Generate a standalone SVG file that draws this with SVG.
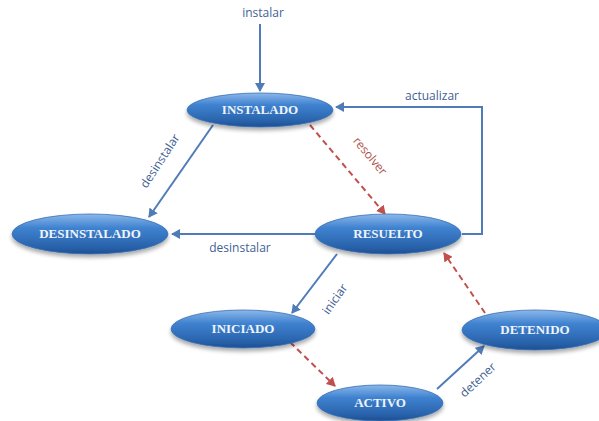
<svg xmlns="http://www.w3.org/2000/svg" width="599" height="421" viewBox="0 0 599 421">
<defs>
<linearGradient id="g" x1="0" y1="0" x2="0" y2="1">
<stop offset="0" stop-color="#8cb8ea"/>
<stop offset="0.35" stop-color="#3f82d0"/>
<stop offset="0.8" stop-color="#2a64ad"/>
<stop offset="1" stop-color="#1e4f92"/>
</linearGradient>
<filter id="sh" x="-20%" y="-30%" width="140%" height="180%">
<feGaussianBlur in="SourceAlpha" stdDeviation="2"/>
<feOffset dy="3"/>
<feComponentTransfer><feFuncA type="linear" slope="0.35"/></feComponentTransfer>
<feMerge><feMergeNode/><feMergeNode in="SourceGraphic"/></feMerge>
</filter>
<marker id="ab" markerWidth="10" markerHeight="10" refX="8" refY="5" orient="auto" markerUnits="userSpaceOnUse">
<path d="M0,0 L9,5 L0,10 z" fill="#4f7cb8"/>
</marker>
<marker id="ar" markerWidth="10" markerHeight="10" refX="8" refY="5" orient="auto" markerUnits="userSpaceOnUse">
<path d="M0,0 L9,5 L0,10 z" fill="#c0504d"/>
</marker>
</defs>
<style>
.n ellipse{fill:url(#g);stroke:#3a72b8;stroke-width:0.8;filter:url(#sh)}
.n text{font-family:"Liberation Serif",serif;font-weight:bold;font-size:13px;fill:#eef4fb;text-anchor:middle}
.b{stroke:#4f7cb8;stroke-width:2;fill:none;marker-end:url(#ab)}
.r{stroke:#c0504d;stroke-width:2;fill:none;stroke-dasharray:6,4;marker-end:url(#ar)}
.lb{font-family:"Open Sans","Liberation Sans",sans-serif;font-size:12px;fill:#3f5f94;text-anchor:middle}
.lr{font-family:"Open Sans","Liberation Sans",sans-serif;font-size:12px;fill:#b0504a;text-anchor:middle}
</style>
<g id="connectors">
<line class="b" x1="260" y1="24" x2="260" y2="91"/>
<text class="lb" x="263" y="17">instalar</text>
<polyline class="b" points="462,234 482,234 482,107 336,107"/>
<text class="lb" x="432" y="100">actualizar</text>
<line class="r" x1="310" y1="125" x2="385" y2="214"/>
<text class="lr" x="370" y="160" transform="rotate(50 370 156)">resolver</text>
<line class="b" x1="213" y1="125" x2="149" y2="217"/>
<text class="lb" x="160" y="165" transform="rotate(-57 160 161)">desinstalar</text>
<line class="b" x1="316" y1="234" x2="172" y2="234"/>
<text class="lb" x="240" y="252">desinstalar</text>
<line class="b" x1="337" y1="254" x2="292" y2="313"/>
<text class="lb" x="335" y="303" transform="rotate(-55 335 299)">iniciar</text>
<line class="r" x1="290" y1="342" x2="335" y2="386"/>
<line class="b" x1="437" y1="389" x2="484" y2="346"/>
<text class="lb" x="478" y="384" transform="rotate(-43 478 380)">detener</text>
<line class="r" x1="485" y1="313" x2="444" y2="253"/>
</g>
<g id="INSTALADO" class="n"><ellipse cx="260" cy="110" rx="73" ry="17"/><text x="260" y="114">INSTALADO</text></g>
<g id="DESINSTALADO" class="n"><ellipse cx="90" cy="234" rx="78" ry="20"/><text x="90" y="238">DESINSTALADO</text></g>
<g id="RESUELTO" class="n"><ellipse cx="388" cy="234" rx="73" ry="20"/><text x="388" y="238">RESUELTO</text></g>
<g id="INICIADO" class="n"><ellipse cx="243" cy="329" rx="72" ry="19"/><text x="243" y="333">INICIADO</text></g>
<g id="DETENIDO" class="n"><ellipse cx="535" cy="330" rx="73" ry="20"/><text x="535" y="334">DETENIDO</text></g>
<g id="ACTIVO" class="n"><ellipse cx="380" cy="403" rx="63" ry="18"/><text x="380" y="407">ACTIVO</text></g>
</svg>
